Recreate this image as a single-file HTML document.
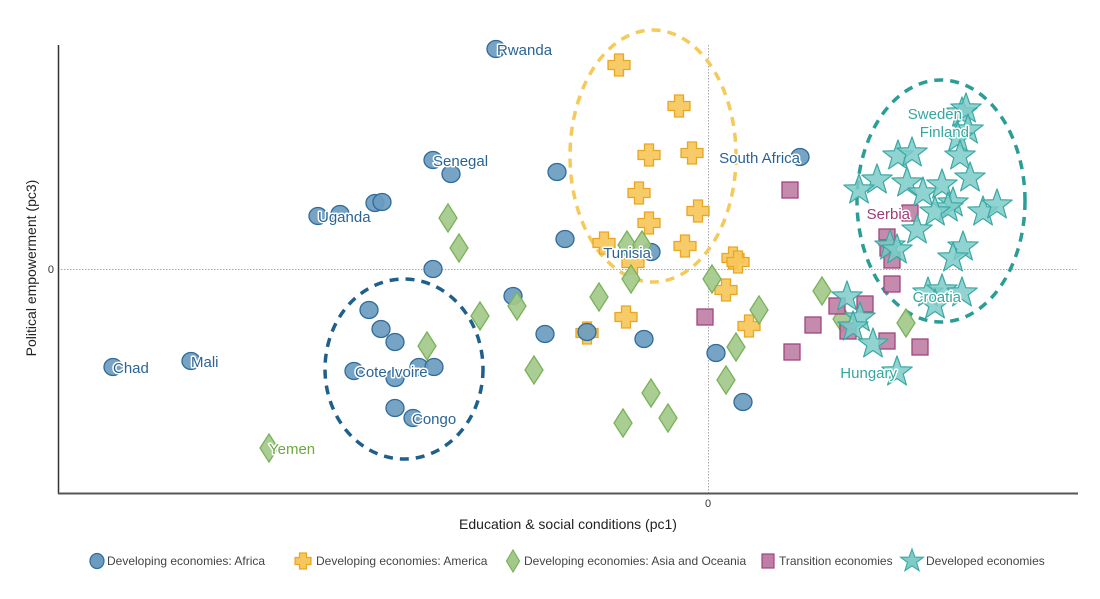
<!DOCTYPE html>
<html><head><meta charset="utf-8"><style>
html,body{margin:0;padding:0;background:#fff;}
svg{display:block;font-family:"Liberation Sans",sans-serif;}
.lb{font-size:15px;paint-order:stroke;stroke:#fff;stroke-width:3px;stroke-linejoin:round;}
.af{fill:#2a6496}.as{fill:#6fa83d}.tr{fill:#9e3a75}.dv{fill:#36a6a0}
.lg{font-size:12px;fill:#444;}
</style></head><body>
<svg width="1100" height="599" viewBox="0 0 1100 599" xmlns="http://www.w3.org/2000/svg">
<defs>
<ellipse id="ci" cx="0" cy="0" rx="9" ry="8.5" fill="#6b9cc0" fill-opacity="0.92" stroke="#2f6c9a" stroke-width="1.3"/>
<path id="pl" d="M-4.5,-11H4.5V-4.5H11V4.5H4.5V11H-4.5V4.5H-11V-4.5H-4.5Z" fill="#f6c75a" fill-opacity="0.92" stroke="#eaa623" stroke-width="1.3"/>
<path id="di" d="M0,-14L9,0L0,14L-9,0Z" fill="#a2c98a" fill-opacity="0.92" stroke="#7ab25a" stroke-width="1.3"/>
<rect id="sq" x="-8" y="-8" width="16" height="16" fill="#bf7ea4" fill-opacity="0.9" stroke="#a0457f" stroke-width="1.3"/>
<polygon id="st" points="0,-16 3.82,-5.26 15.22,-4.94 6.18,2.01 9.40,12.94 0,6.5 -9.40,12.94 -6.18,2.01 -15.22,-4.94 -3.82,-5.26" fill="#7ecbc8" fill-opacity="0.85" stroke="#3aa8a3" stroke-width="1.2" stroke-linejoin="round"/>
</defs>

<line x1="58" y1="269.5" x2="1078" y2="269.5" stroke="#aaa" stroke-width="1" stroke-dasharray="1.5,1.5"/>
<line x1="708.5" y1="45" x2="708.5" y2="493" stroke="#aaa" stroke-width="1" stroke-dasharray="1.5,1.5"/>

<line x1="58.5" y1="45" x2="58.5" y2="494" stroke="#333" stroke-width="1.5"/>
<line x1="58" y1="493.5" x2="1078" y2="493.5" stroke="#555" stroke-width="2"/>

<text x="708" y="507" font-size="11" fill="#333" text-anchor="middle">0</text>
<text x="54" y="273" font-size="11" fill="#333" text-anchor="end">0</text>
<text x="568" y="529" font-size="14" fill="#222" text-anchor="middle">Education &amp; social conditions (pc1)</text>
<text transform="translate(36,268) rotate(-90)" font-size="14" fill="#222" text-anchor="middle">Political empowerment (pc3)</text>

<ellipse cx="653" cy="156" rx="83" ry="126" fill="none" stroke="#f5c95a" stroke-width="3.5" stroke-dasharray="9,7"/>
<ellipse cx="404" cy="369" rx="79" ry="90" fill="none" stroke="#1f5f8b" stroke-width="3.5" stroke-dasharray="9,7"/>
<ellipse cx="941" cy="201" rx="84" ry="121" fill="none" stroke="#2a9d96" stroke-width="3.5" stroke-dasharray="9,7"/>

<g>
<use href="#ci" x="496" y="49"/><use href="#ci" x="433" y="160"/><use href="#ci" x="451" y="174"/>
<use href="#ci" x="557" y="172"/><use href="#ci" x="375" y="203"/><use href="#ci" x="382" y="202"/>
<use href="#ci" x="318" y="216"/><use href="#ci" x="340" y="214"/><use href="#ci" x="565" y="239"/>
<use href="#ci" x="651" y="252"/><use href="#ci" x="433" y="269"/><use href="#ci" x="800" y="157"/>
<use href="#ci" x="513" y="296"/><use href="#ci" x="369" y="310"/><use href="#ci" x="381" y="329"/>
<use href="#ci" x="395" y="342"/><use href="#ci" x="545" y="334"/><use href="#ci" x="644" y="339"/>
<use href="#ci" x="354" y="371"/><use href="#ci" x="419" y="367"/><use href="#ci" x="434" y="367"/>
<use href="#ci" x="395" y="378"/><use href="#ci" x="395" y="408"/><use href="#ci" x="413" y="418"/>
<use href="#ci" x="113" y="367"/><use href="#ci" x="191" y="361"/><use href="#ci" x="716" y="353"/>
<use href="#ci" x="743" y="402"/>
</g>
<g>
<use href="#pl" x="619" y="65"/><use href="#pl" x="679" y="106"/><use href="#pl" x="649" y="155"/>
<use href="#pl" x="692" y="153"/><use href="#pl" x="639" y="193"/><use href="#pl" x="698" y="211"/>
<use href="#pl" x="649" y="223"/><use href="#pl" x="604" y="243"/><use href="#pl" x="633" y="263"/>
<use href="#pl" x="685" y="246"/><use href="#pl" x="733" y="258"/><use href="#pl" x="738" y="262"/>
<use href="#pl" x="726" y="290"/><use href="#pl" x="626" y="317"/><use href="#pl" x="587" y="333"/>
<use href="#pl" x="749" y="326"/>
</g>
<use href="#ci" x="587" y="332"/>
<g>
<use href="#di" x="448" y="218"/><use href="#di" x="459" y="248"/><use href="#di" x="627" y="245"/>
<use href="#di" x="642" y="245"/><use href="#di" x="631" y="279"/><use href="#di" x="517" y="306"/>
<use href="#di" x="480" y="316"/><use href="#di" x="599" y="297"/><use href="#di" x="427" y="346"/>
<use href="#di" x="534" y="370"/><use href="#di" x="651" y="393"/><use href="#di" x="623" y="423"/>
<use href="#di" x="668" y="418"/><use href="#di" x="712" y="279"/><use href="#di" x="759" y="310"/>
<use href="#di" x="736" y="347"/><use href="#di" x="726" y="380"/><use href="#di" x="822" y="291"/>
<use href="#di" x="842" y="319"/><use href="#di" x="906" y="323"/><use href="#di" x="269" y="448"/>
</g>
<g>
<use href="#sq" x="790" y="190"/><use href="#sq" x="910" y="213"/><use href="#sq" x="887" y="237"/>
<use href="#sq" x="888" y="248"/><use href="#sq" x="892" y="260"/><use href="#sq" x="892" y="284"/>
<use href="#sq" x="705" y="317"/><use href="#sq" x="837" y="306"/><use href="#sq" x="865" y="304"/>
<use href="#sq" x="813" y="325"/><use href="#sq" x="848" y="331"/><use href="#sq" x="792" y="352"/>
<use href="#sq" x="887" y="341"/><use href="#sq" x="920" y="347"/>
</g>
<g>
<use href="#st" x="962" y="113"/><use href="#st" x="966" y="109"/><use href="#st" x="968" y="130"/>
<use href="#st" x="958" y="138"/><use href="#st" x="960" y="156"/><use href="#st" x="898" y="156"/>
<use href="#st" x="912" y="153"/><use href="#st" x="970" y="178"/><use href="#st" x="877" y="180"/>
<use href="#st" x="859" y="190"/><use href="#st" x="907" y="183"/><use href="#st" x="923" y="193"/>
<use href="#st" x="942" y="185"/><use href="#st" x="953" y="203"/><use href="#st" x="948" y="208"/>
<use href="#st" x="935" y="212"/><use href="#st" x="983" y="212"/><use href="#st" x="997" y="205"/>
<use href="#st" x="917" y="230"/><use href="#st" x="890" y="246"/><use href="#st" x="897" y="250"/>
<use href="#st" x="963" y="247"/><use href="#st" x="953" y="258"/><use href="#st" x="928" y="293"/>
<use href="#st" x="942" y="290"/><use href="#st" x="935" y="305"/><use href="#st" x="962" y="293"/>
<use href="#st" x="847" y="297"/><use href="#st" x="860" y="318"/><use href="#st" x="853" y="327"/>
<use href="#st" x="873" y="344"/><use href="#st" x="897" y="372"/>
</g>

<text class="lb af" x="497" y="55">Rwanda</text>
<text class="lb af" x="433" y="166">Senegal</text>
<text class="lb af" x="318" y="222">Uganda</text>
<text class="lb af" x="651" y="258" text-anchor="end">Tunisia</text>
<text class="lb af" x="800" y="163" text-anchor="end">South Africa</text>
<text class="lb af" x="113" y="373">Chad</text>
<text class="lb af" x="191" y="367">Mali</text>
<text class="lb af" x="355" y="377">Cote Ivoire</text>
<text class="lb af" x="412" y="424">Congo</text>
<text class="lb as" x="269" y="454">Yemen</text>
<text class="lb tr" x="910" y="219" text-anchor="end">Serbia</text>
<text class="lb dv" x="962" y="119" text-anchor="end">Sweden</text>
<text class="lb dv" x="969" y="137" text-anchor="end">Finland</text>
<text class="lb dv" x="961" y="302" text-anchor="end">Croatia</text>
<text class="lb dv" x="897" y="378" text-anchor="end">Hungary</text>

<ellipse cx="97" cy="561" rx="7" ry="7.5" fill="#6b9cc0" stroke="#2f6c9a" stroke-width="1.2"/>
<text class="lg" x="107" y="565">Developing economies: Africa</text>
<path transform="translate(303,561)" d="M-3.5,-8H3.5V-3.5H8V3.5H3.5V8H-3.5V3.5H-8V-3.5H-3.5Z" fill="#f6c75a" stroke="#eaa623" stroke-width="1.2"/>
<text class="lg" x="316" y="565">Developing economies: America</text>
<path transform="translate(513,561)" d="M0,-11L6.5,0L0,11L-6.5,0Z" fill="#a2c98a" stroke="#7ab25a" stroke-width="1.2"/>
<text class="lg" x="524" y="565">Developing economies: Asia and Oceania</text>
<rect x="762" y="554" width="12" height="14" fill="#bf7ea4" stroke="#a0457f" stroke-width="1.2"/>
<text class="lg" x="779" y="565">Transition economies</text>
<polygon transform="translate(912,561)" points="0,-12 2.9,-3.9 11.4,-3.7 4.6,1.5 7.1,9.7 0,4.9 -7.1,9.7 -4.6,1.5 -11.4,-3.7 -2.9,-3.9" fill="#7ecbc8" stroke="#3aa8a3" stroke-width="1.1"/>
<text class="lg" x="926" y="565">Developed economies</text>
</svg>
</body></html>
